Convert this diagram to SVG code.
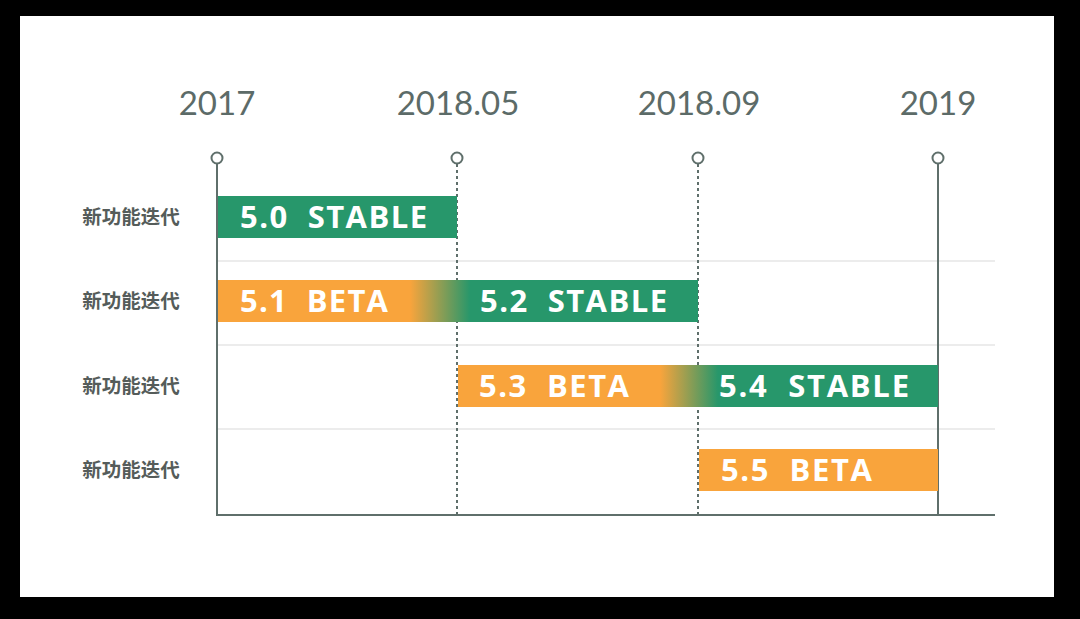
<svg xmlns="http://www.w3.org/2000/svg" width="1080" height="619" viewBox="0 0 1080 619">
<style>
.year{font-family:Lato,"Liberation Sans",sans-serif;font-size:33px;fill:#5c6b68;text-anchor:middle}
.row{font-family:"Noto Sans CJK SC",sans-serif;font-size:19.5px;font-weight:700;fill:#555c5a;text-anchor:middle}
.bar{font-family:"Open Sans","Liberation Sans",sans-serif;font-size:31px;font-weight:700;fill:#ffffff;white-space:pre}
.axis{stroke:#5f6f6b;stroke-width:2;fill:none}
.dash{stroke:#5f6f6b;stroke-width:2;stroke-dasharray:3 3;fill:none}
.sep{stroke:#e6e6e6;stroke-width:1.5}
.dot{fill:#ffffff;stroke:#5f6f6b;stroke-width:2}
</style>
<defs>
<linearGradient id="g1" gradientUnits="userSpaceOnUse" x1="410" y1="0" x2="470" y2="0">
<stop offset="0" stop-color="#f9a43c"/><stop offset="1" stop-color="#27976b"/>
</linearGradient>
<linearGradient id="g2" gradientUnits="userSpaceOnUse" x1="660" y1="0" x2="718" y2="0">
<stop offset="0" stop-color="#f9a43c"/><stop offset="1" stop-color="#27976b"/>
</linearGradient>
</defs>
<rect width="1080" height="619" fill="#000"/>
<rect x="20" y="16" width="1034" height="581" fill="#fff"/>
<g id="grid">
<line class="sep" x1="217" y1="261" x2="995" y2="261"/>
<line class="sep" x1="217" y1="345" x2="995" y2="345"/>
<line class="sep" x1="217" y1="429" x2="995" y2="429"/>
</g>
<g id="connectors">
<line class="axis" x1="217" y1="164" x2="217" y2="515"/>
<line class="dash" x1="457" y1="164" x2="457" y2="515"/>
<line class="dash" x1="698" y1="164" x2="698" y2="515"/>
<line class="axis" x1="938" y1="164" x2="938" y2="515"/>
<line class="axis" x1="216" y1="515" x2="995" y2="515"/>
</g>
<g id="years">
<text class="year" x="217" y="115">2017</text>
<text class="year" x="458" y="115">2018.05</text>
<text class="year" x="699" y="115">2018.09</text>
<text class="year" x="938" y="115">2019</text>
<circle class="dot" cx="217" cy="158" r="5.5"/>
<circle class="dot" cx="457" cy="158" r="5.5"/>
<circle class="dot" cx="698" cy="158" r="5.5"/>
<circle class="dot" cx="938" cy="158" r="5.5"/>
</g>
<g id="labels">
<text class="row" x="131" y="224">新功能迭代</text>
<text class="row" x="131" y="308">新功能迭代</text>
<text class="row" x="131" y="393">新功能迭代</text>
<text class="row" x="131" y="477">新功能迭代</text>
</g>
<g id="bar50"><rect x="218" y="196" width="239" height="42" fill="#27976b"/><text class="bar" x="240" y="228" textLength="187" lengthAdjust="spacing">5.0  STABLE</text></g>
<g id="bar51"><rect x="218" y="280" width="480" height="42" fill="url(#g1)"/><text class="bar" x="240" y="312" textLength="148" lengthAdjust="spacing">5.1  BETA</text><text class="bar" x="480" y="312" textLength="187" lengthAdjust="spacing">5.2  STABLE</text></g>
<g id="bar53"><rect x="458" y="365" width="480" height="42" fill="url(#g2)"/><text class="bar" x="479" y="397" textLength="150" lengthAdjust="spacing">5.3  BETA</text><text class="bar" x="719" y="397" textLength="190" lengthAdjust="spacing">5.4  STABLE</text></g>
<g id="bar55"><rect x="699" y="449" width="239" height="42" fill="#f9a43c"/><text class="bar" x="721" y="481" textLength="151" lengthAdjust="spacing">5.5  BETA</text></g>
</svg>
